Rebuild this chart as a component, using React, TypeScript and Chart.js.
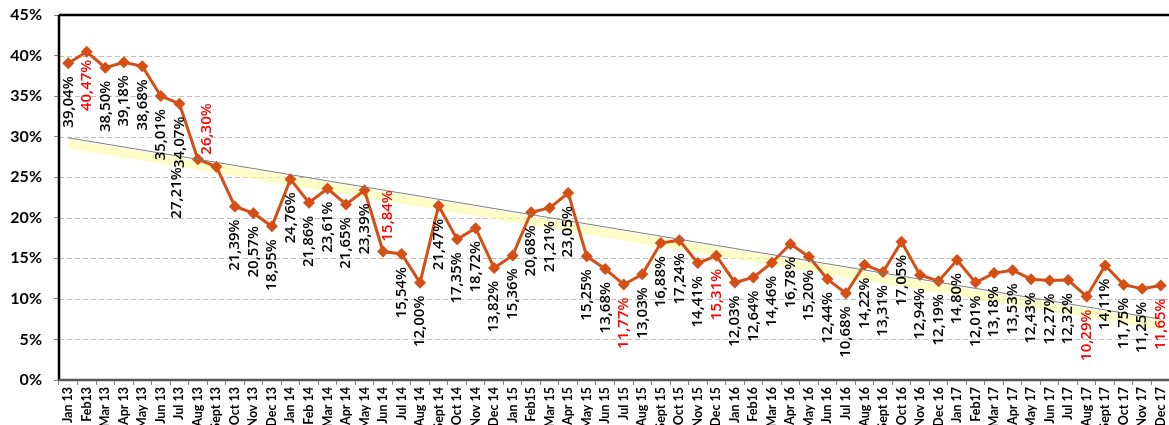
import React, { useEffect, useRef } from "react";
import { Chart, registerables } from "chart.js";

Chart.register(...registerables);

const months: string[] = [
  "Jan 13", "Feb13", "Mar 13", "Apr 13", "May 13", "Jun 13", "Jul 13", "Aug 13", "Sept 13", "Oct 13", "Nov 13", "Dec 13",
  "Jan 14", "Feb 14", "Mar 14", "Apr 14", "May 14", "Jun 14", "Jul 14", "Aug 14", "Sept 14", "Oct 14", "Nov 14", "Dec 14",
  "Jan 15", "Feb15", "Mar 15", "Apr 15", "May 15", "Jun 15", "Jul 15", "Aug 15", "Sept 15", "Oct 15", "Nov 15", "Dec 15",
  "Jan 16", "Feb16", "Mar 16", "Apr 16", "May 16", "Jun 16", "Jul 16", "Aug 16", "Sept 16", "Oct 16", "Nov 16", "Dec 16",
  "Jan 17", "Feb17", "Mar 17", "Apr 17", "May 17", "Jun 17", "Jul 17", "Aug 17", "Sept 17", "Oct 17", "Nov 17", "Dec 17",
];

const rates: number[] = [
  39.04, 40.47, 38.5, 39.18, 38.68, 35.01, 34.07, 27.21, 26.3, 21.39, 20.57, 18.95,
  24.76, 21.86, 23.61, 21.65, 23.39, 15.84, 15.54, 12.0, 21.47, 17.35, 18.72, 13.82,
  15.36, 20.68, 21.21, 23.05, 15.25, 13.68, 11.77, 13.03, 16.88, 17.24, 14.41, 15.31,
  12.03, 12.64, 14.46, 16.78, 15.2, 12.44, 10.68, 14.22, 13.31, 17.05, 12.94, 12.19,
  14.8, 12.01, 13.18, 13.53, 12.43, 12.27, 12.32, 10.29, 14.11, 11.75, 11.25, 11.65,
];

// months whose data label is shown in red
const redLabels: string[] = ["Feb13", "Sept 13", "Jun 14", "Jul 15", "Dec 15", "Aug 17", "Dec 17"];

const yTicks: number[] = [0, 5, 10, 15, 20, 25, 30, 35, 40, 45];

// label placement tweaks (index -> {dx, above, gap})
const labelPlacement: Record<number, { dx: number; above?: boolean; gap?: number }> = {
  1: { dx: 0, gap: 8 },
  7: { dx: -21, gap: 8 },
  8: { dx: -10, above: true, gap: 12 },
  17: { dx: 5, above: true, gap: 10 },
};

function linearFit(vals: number[]): number[] {
  const n = vals.length;
  let sx = 0, sy = 0, sxy = 0, sxx = 0;
  vals.forEach((v, i) => {
    sx += i; sy += v; sxy += i * v; sxx += i * i;
  });
  const slope = (n * sxy - sx * sy) / (n * sxx - sx * sx);
  const icpt = (sy - slope * sx) / n;
  return vals.map((_, i) => icpt + slope * i);
}

const trend = linearFit(rates);
const glow = trend.map((v) => v - 0.75);

const LABEL_FONT = "600 15px 'Open Sans', 'Liberation Sans', sans-serif";

const gridPlugin = {
  id: "dashGrid",
  beforeDatasetsDraw(chart: any) {
    const { ctx, chartArea, scales } = chart;
    ctx.save();
    ctx.strokeStyle = "#BFBFBF";
    ctx.lineWidth = 1;
    ctx.setLineDash([5, 3]);
    yTicks.forEach((v) => {
      if (v === 0 || v === 45) return;
      const y = Math.round(scales.y.getPixelForValue(v)) + 0.5;
      ctx.beginPath();
      ctx.moveTo(chartArea.left, y);
      ctx.lineTo(chartArea.right + 10, y);
      ctx.stroke();
    });
    ctx.restore();
  },
};

const labelsPlugin = {
  id: "rotLabels",
  afterDatasetsDraw(chart: any) {
    const meta = chart.getDatasetMeta(2);
    const ctx = chart.ctx;
    ctx.save();
    ctx.font = LABEL_FONT;
    ctx.textBaseline = "middle";
    meta.data.forEach((pt: any, i: number) => {
      const p = labelPlacement[i] || { dx: 0 };
      const gap = p.gap ?? 13;
      const txt = rates[i].toFixed(2).replace(".", ",") + "%";
      ctx.fillStyle = redLabels.includes(months[i]) ? "#FF0000" : "#000000";
      ctx.save();
      ctx.translate(pt.x + p.dx, p.above ? pt.y - gap : pt.y + gap);
      ctx.rotate(-Math.PI / 2);
      ctx.textAlign = p.above ? "left" : "right";
      ctx.fillText(txt, 0, 0);
      ctx.restore();
    });
    ctx.restore();
  },
};

const framePlugin = {
  id: "frame",
  afterDraw(chart: any) {
    const { ctx, chartArea } = chart;
    const { left, right, top, bottom } = chartArea;
    ctx.save();
    ctx.lineWidth = 2.5;
    ctx.strokeStyle = "#000000";
    ctx.beginPath();
    ctx.moveTo(left, top);
    ctx.lineTo(right + 10, top);
    ctx.stroke();
    ctx.beginPath();
    ctx.moveTo(left, top);
    ctx.lineTo(left, bottom);
    ctx.stroke();
    ctx.strokeStyle = "#595959";
    ctx.beginPath();
    ctx.moveTo(left, bottom);
    ctx.lineTo(right + 10, bottom);
    ctx.stroke();
    ctx.restore();
  },
};

export default function App() {
  const ref = useRef<HTMLCanvasElement | null>(null);
  useEffect(() => {
    if (!ref.current) return;
    const chart = new Chart(ref.current, {
      type: "line",
      data: {
        labels: months,
        datasets: [
          {
            label: "glow",
            data: glow,
            borderColor: "rgba(252,252,165,0.6)",
            borderWidth: 9,
            pointRadius: 0,
            order: 3,
          },
          {
            label: "trend",
            data: trend,
            borderColor: "#7f7f7f",
            borderWidth: 1,
            pointRadius: 0,
            order: 1,
          },
          {
            label: "rate",
            data: rates,
            borderColor: "#D44E16",
            backgroundColor: "#D44E16",
            borderWidth: 3,
            pointStyle: "rectRot",
            pointRadius: 6,
            pointBorderWidth: 0,
            order: 2,
          },
        ],
      },
      options: {
        responsive: false,
        animation: false,
        layout: { padding: { top: 15, left: 0, right: 0, bottom: 0 } },
        plugins: { legend: { display: false }, tooltip: { enabled: false } },
        scales: {
          x: {
            offset: true,
            grid: {
              offset: true,
              drawOnChartArea: false,
              drawTicks: true,
              tickLength: 5,
              tickColor: "#808080",
            },
            border: { display: false },
            ticks: {
              autoSkip: false,
              minRotation: 90,
              maxRotation: 90,
              padding: 2,
              color: "#000000",
              font: { family: "Lato, 'Liberation Sans', sans-serif", size: 12.5, weight: "bold" },
            },
            afterFit: (s: any) => {
              s.height = 45;
              s.paddingLeft = 0;
              s.paddingRight = 0;
            },
          },
          y: {
            min: 0,
            max: 45,
            afterBuildTicks: (s: any) => {
              s.ticks = yTicks.map((v) => ({ value: v }));
            },
            grid: {
              drawOnChartArea: false,
              tickLength: 5,
              tickColor: "#808080",
            },
            border: { display: false },
            ticks: {
              padding: 12,
              color: "#000000",
              font: { family: "Lato, 'Liberation Sans', sans-serif", size: 16, weight: "bold" },
              callback: (v: any) => v + "%",
            },
            afterFit: (s: any) => {
              s.width = 59;
              s.paddingTop = 0;
              s.paddingBottom = 0;
            },
          },
        },
      },
      plugins: [gridPlugin, labelsPlugin, framePlugin],
    });
    return () => chart.destroy();
  }, []);
  return (
    <div style={{ position: "fixed", left: 0, top: 0, width: 1169, height: 425, overflow: "hidden", background: "#fff" }}>
      <canvas ref={ref} width={1176} height={425} style={{ display: "block" }} />
    </div>
  );
}
